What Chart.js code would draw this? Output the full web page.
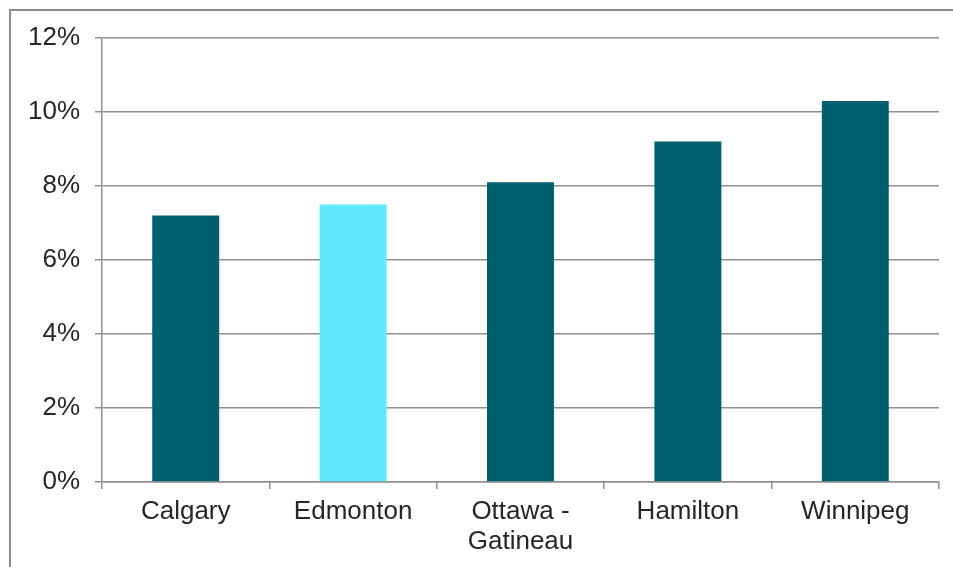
<!DOCTYPE html>
<html>
<head>
<meta charset="utf-8">
<script src="https://cdn.jsdelivr.net/npm/chart.js@4"></script>
<style>
  html, body { margin: 0; padding: 0; background: #ffffff; }
  #wrap { width: 953px; height: 567px; position: relative; }
</style>
</head>
<body>
<div id="wrap"><canvas id="c" width="953" height="567"></canvas></div>
<script>
// Cities and their rates (percent)
const cities = ['Calgary', 'Edmonton', ['Ottawa -', 'Gatineau'], 'Hamilton', 'Winnipeg'];
const rates = [7.2, 7.5, 8.1, 9.2, 10.3];
const barColors = ['#005f6e', '#61e8fc', '#005f6e', '#005f6e', '#005f6e'];
const yTicks = [0, 2, 4, 6, 8, 10, 12];

// Frame around the chart, open toward the right and bottom edges
const framePlugin = {
  id: 'frame',
  beforeDraw(chart) {
    const ctx = chart.ctx;
    ctx.save();
    ctx.fillStyle = '#ffffff';
    ctx.fillRect(0, 0, chart.width, chart.height);
    ctx.strokeStyle = '#8c8c8c';
    ctx.lineWidth = 2;
    ctx.beginPath();
    ctx.moveTo(10, chart.height + 5);
    ctx.lineTo(10, 10);
    ctx.lineTo(chart.width + 5, 10);
    ctx.stroke();
    ctx.restore();
  }
};

const font = { family: '"Liberation Sans", Arial, sans-serif', size: 26, lineHeight: 1.15 };
const gridColor = '#909090';

new Chart(document.getElementById('c'), {
  type: 'bar',
  data: {
    labels: cities,
    datasets: [{
      data: rates,
      backgroundColor: barColors,
      borderWidth: 0,
      barPercentage: 0.4,
      categoryPercentage: 1.0
    }]
  },
  options: {
    responsive: false,
    animation: false,
    layout: { padding: { top: 38, right: 14, left: 0, bottom: 0 } },
    plugins: { legend: { display: false }, tooltip: { enabled: false } },
    scales: {
      x: {
        offset: true,
        grid: {
          offset: true,
          drawOnChartArea: false,
          drawTicks: true,
          tickLength: 7,
          color: gridColor,
          lineWidth: 1.5
        },
        border: { color: gridColor, width: 1.5 },
        ticks: { color: '#262626', font: font, padding: 8, maxRotation: 0, autoSkip: false },
        afterFit(scale) { scale.height = 85; }
      },
      y: {
        min: 0,
        max: 12,
        afterBuildTicks(scale) { scale.ticks = yTicks.map(v => ({ value: v })); },
        grid: {
          color: gridColor,
          lineWidth: 1.5,
          tickLength: 7
        },
        border: { color: gridColor, width: 1.5 },
        ticks: {
          color: '#262626',
          font: font,
          padding: 15,
          callback: v => v + '%'
        },
        afterFit(scale) { scale.width = 102; }
      }
    }
  },
  plugins: [framePlugin]
});
</script>
</body>
</html>
